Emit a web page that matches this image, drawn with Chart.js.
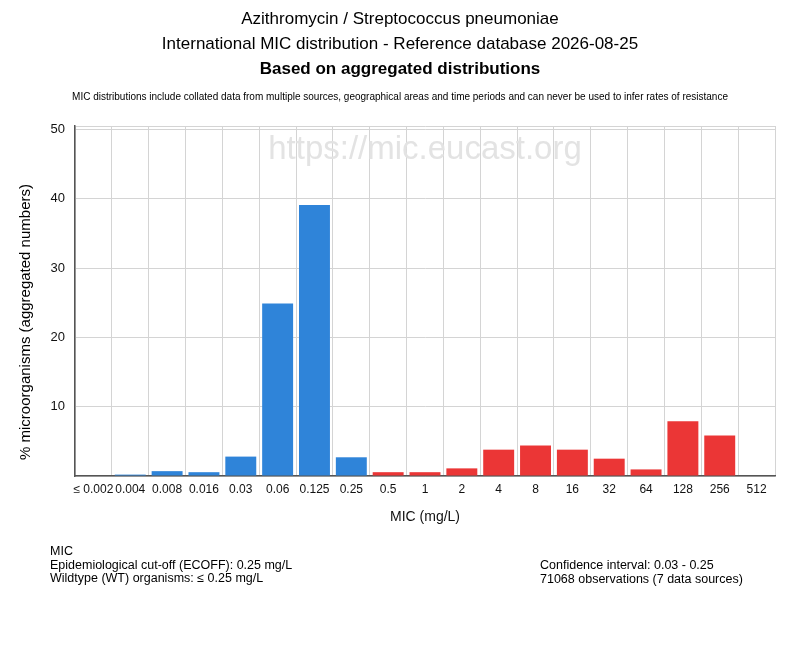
<!DOCTYPE html>
<html>
<head>
<meta charset="utf-8">
<script src="https://cdn.jsdelivr.net/npm/chart.js@4/dist/chart.umd.min.js"></script>
<style>
body { margin: 0; background: #fff; }
#wrap { width: 800px; height: 650px; }
</style>
</head>
<body>
<div id="wrap"><canvas id="grafica"></canvas></div>
<script>
// MIC categories (mg/L) and % of isolates per category
var mic_labels = ['≤ 0.002', '0.004', '0.008', '0.016', '0.03', '0.06', '0.125', '0.25', '0.5',
	'1', '2', '4', '8', '16', '32', '64', '128', '256', '512'];
var porcentajes = [0, 0.2, 0.7, 0.55, 2.8, 24.9, 39.1, 2.7, 0.55,
	0.55, 1.1, 3.8, 4.4, 3.8, 2.5, 0.95, 7.9, 5.85, 0];
var y_ticks = [10, 20, 30, 40, 50];
var y_max = 50.5;
var ecoff = '0.25';

var titulos = [
	'Azithromycin / Streptococcus pneumoniae',
	'International MIC distribution - Reference database 2026-08-25',
	'Based on aggregated distributions'
];
var aviso = 'MIC distributions include collated data from multiple sources, geographical areas and time periods and can never be used to infer rates of resistance';
var pie_izq = ['MIC', 'Epidemiological cut-off (ECOFF): 0.25 mg/L', 'Wildtype (WT) organisms: ≤ 0.25 mg/L'];
var pie_der = ['Confidence interval: 0.03 - 0.25', '71068 observations (7 data sources)'];

var FUENTE = "'Liberation Sans', Arial, sans-serif";
var AZUL = '#2f84d9';
var ROJO = '#eb3636';

// bars up to the ECOFF are wildtype (blue), the rest red
var idx_ecoff = mic_labels.indexOf(ecoff);
var colores = mic_labels.map(function(l, i) { return i <= idx_ecoff ? AZUL : ROJO; });

var textos = {
	id: 'textos',
	beforeDatasetsDraw: function(chart) {
		var c = chart.ctx;
		var a = chart.chartArea;
		c.save();
		c.fillStyle = '#e3e3e3';
		c.font = '33px ' + FUENTE;
		c.textAlign = 'center';
		c.textBaseline = 'middle';
		c.fillText('https://mic.eucast.org', (a.left + a.right) / 2, 150);
		c.restore();
	},
	afterDraw: function(chart) {
		var c = chart.ctx;
		c.save();
		c.fillStyle = '#000';
		c.textAlign = 'center';
		c.textBaseline = 'middle';
		c.font = '17px ' + FUENTE;
		c.fillText(titulos[0], 400, 19);
		c.fillText(titulos[1], 400, 44);
		c.font = 'bold 17px ' + FUENTE;
		c.fillText(titulos[2], 400, 69);
		c.font = '10px ' + FUENTE;
		c.fillText(aviso, 400, 97);

		// y axis title
		c.save();
		c.translate(26, 322);
		c.rotate(-Math.PI / 2);
		c.font = '15px ' + FUENTE;
		c.fillText('% microorganisms (aggregated numbers)', 0, 0);
		c.restore();

		c.textAlign = 'left';
		c.font = '12.5px ' + FUENTE;
		for (var i = 0; i < pie_izq.length; i++) {
			c.fillText(pie_izq[i], 50, 552 + i * 13.5);
		}
		for (var j = 0; j < pie_der.length; j++) {
			c.fillText(pie_der[j], 540, 566 + j * 13.5);
		}
		c.restore();
	}
};

Chart.defaults.font.family = FUENTE;
Chart.defaults.color = '#222';

var ctx = document.getElementById('grafica').getContext('2d');
var chart = new Chart(ctx, {
	type: 'bar',
	data: {
		labels: mic_labels,
		datasets: [{
			data: porcentajes,
			backgroundColor: colores,
			barPercentage: 0.84,
			categoryPercentage: 1.0
		}]
	},
	options: {
		responsive: true,
		maintainAspectRatio: false,
		animation: false,
		layout: { padding: { top: 126, right: 25, bottom: 124, left: 0 } },
		plugins: {
			legend: { display: false },
			tooltip: { enabled: false }
		},
		scales: {
			x: {
				grid: { color: '#d4d4d4', drawTicks: false, offset: true },
				border: { color: '#555', width: 1.5 },
				ticks: { padding: 6, color: '#111', font: { size: 12 }, maxRotation: 0, autoSkip: false },
				title: { display: true, text: 'MIC (mg/L)', color: '#111', font: { size: 14 }, padding: 0 },
				afterFit: function(s) { s.height = 50; }
			},
			y: {
				min: 0,
				max: y_max,
				grid: { color: '#d4d4d4', drawTicks: false },
				border: { color: '#555', width: 1.5 },
				afterBuildTicks: function(s) {
					s.ticks = [0].concat(y_ticks, [y_max]).map(function(v) { return { value: v }; });
				},
				ticks: {
					padding: 10,
					color: '#111',
					font: { size: 13 },
					callback: function(v) { return y_ticks.indexOf(v) >= 0 ? v : ''; }
				},
				afterFit: function(s) { s.width = 75; }
			}
		}
	},
	plugins: [textos]
});
</script>
</body>
</html>
